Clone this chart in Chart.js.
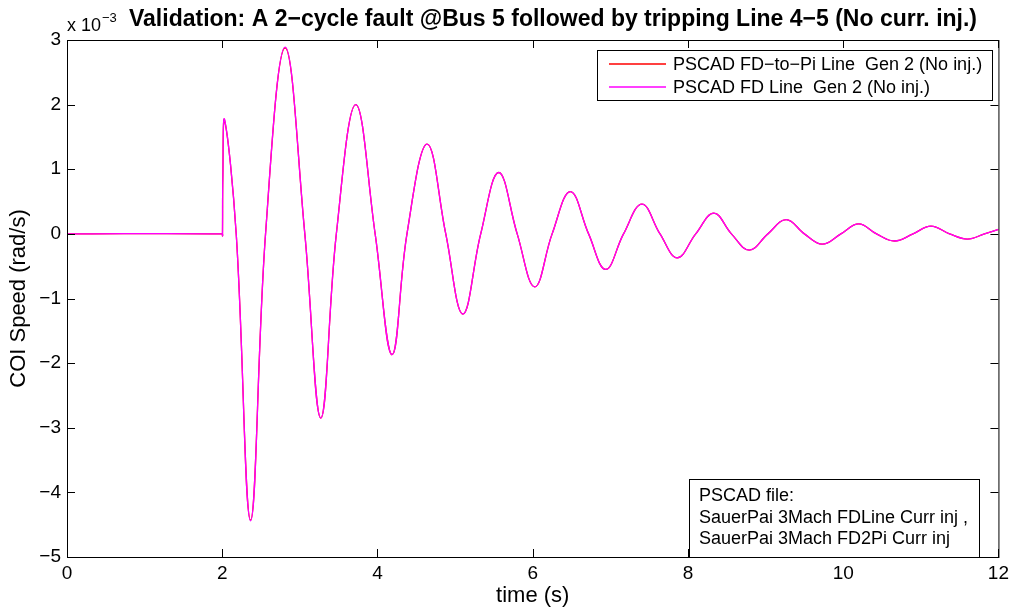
<!DOCTYPE html>
<html>
<head>
<meta charset="utf-8">
<script src="https://cdn.jsdelivr.net/npm/chart.js@4.4.1/dist/chart.umd.min.js"></script>
<style>
    html, body { margin: 0; padding: 0; background: #fff; }
    #wrap { width: 1014px; height: 611px; }
</style>
</head>
<body>
<div id="wrap"><canvas id="coiChart" width="1014" height="611"></canvas></div>
<script>
// time (s) and COI speed (x 1e-3 rad/s): extrema and zero crossings
var timeS = [0, 2.0, 2.003, 2.008, 2.03, 2.18, 2.365, 2.558, 2.81,
    3.064, 3.27, 3.47, 3.72, 3.97, 4.188, 4.38, 4.64, 4.88, 5.10, 5.33, 5.562,
    5.80, 6.026, 6.25, 6.485, 6.72, 6.94, 7.17, 7.407, 7.64, 7.862, 8.10, 8.334,
    8.56, 8.79, 9.03, 9.266, 9.50, 9.73, 9.97, 10.2, 10.43, 10.66, 10.90, 11.13,
    11.37, 11.6, 11.82, 12.0];
var speedFdPi = [0, 0, -0.03, 0.9, 1.76, 0, -4.43, 0, 2.88,
    0, -2.85, 0, 2.0, 0, -1.87, 0, 1.39, 0, -1.24, 0, 0.95,
    0, -0.82, 0, 0.655, 0, -0.55, 0, 0.46, 0, -0.37, 0, 0.32,
    0, -0.25, 0, 0.22, 0, -0.16, 0, 0.155, 0, -0.11, 0, 0.12,
    0, -0.08, 0, 0.07];
var speedFd = [0, 0, -0.03, 0.9, 1.77, 0, -4.44, 0, 2.89,
    0, -2.85, 0, 2.0, 0, -1.87, 0, 1.39, 0, -1.24, 0, 0.95,
    0, -0.82, 0, 0.655, 0, -0.55, 0, 0.46, 0, -0.37, 0, 0.32,
    0, -0.25, 0, 0.22, 0, -0.16, 0, 0.155, 0, -0.11, 0, 0.12,
    0, -0.08, 0, 0.07];
var xTicks = [0, 2, 4, 6, 8, 10, 12];
var yTicks = [-5, -4, -3, -2, -1, 0, 1, 2, 3];
var seriesNames = ['PSCAD FD\u2212to\u2212Pi Line  Gen 2 (No inj.)', 'PSCAD FD Line  Gen 2 (No inj.)'];
var seriesColors = ['#ff0000', '#ff00ff'];
var titleText = 'Validation: A 2\u2212cycle fault @Bus 5 followed by tripping Line 4\u22125 (No curr. inj.)';
var noteLines = ['PSCAD file:', 'SauerPai 3Mach FDLine Curr inj ,', 'SauerPai 3Mach FD2Pi Curr inj'];

var FONT = '"Liberation Sans", Arial, Helvetica, sans-serif';

function toPoints(ys) {
    return timeS.map(function(t, i) { return { x: t, y: ys[i] }; });
}

function minusLabel(v) {
    return v < 0 ? '\u2212' + Math.abs(v) : String(v);
}

var matlabFrame = {
    id: 'matlabFrame',
    afterDraw: function(chart) {
        var ctx = chart.ctx;
        var a = chart.chartArea;
        var xs = chart.scales.x, ys = chart.scales.y;
        var tl = 8;

        ctx.save();
        ctx.strokeStyle = '#000';
        ctx.lineWidth = 1;
        ctx.strokeRect(a.left + 0.5, a.top + 0.5, a.right - a.left, a.bottom - a.top);

        ctx.beginPath();
        xTicks.forEach(function(v) {
            var px = Math.round(xs.getPixelForValue(v)) + 0.5;
            ctx.moveTo(px, a.bottom); ctx.lineTo(px, a.bottom - tl);
            ctx.moveTo(px, a.top); ctx.lineTo(px, a.top + tl);
        });
        yTicks.forEach(function(v) {
            var py = Math.round(ys.getPixelForValue(v)) + 0.5;
            ctx.moveTo(a.left, py); ctx.lineTo(a.left + tl, py);
            ctx.moveTo(a.right, py); ctx.lineTo(a.right - tl, py);
        });
        ctx.stroke();

        // title and exponent
        ctx.fillStyle = '#000';
        ctx.textBaseline = 'middle';
        ctx.textAlign = 'center';
        ctx.font = 'bold 23px ' + FONT;
        ctx.fillText(titleText, 553, 20);
        ctx.textAlign = 'left';
        ctx.textBaseline = 'alphabetic';
        ctx.font = '18px ' + FONT;
        ctx.fillText('x 10', 67, 31);
        var w = ctx.measureText('x 10').width;
        ctx.font = '13px ' + FONT;
        ctx.fillText('\u22123', 67 + w + 1, 22);

        // legend
        ctx.textBaseline = 'middle';
        ctx.fillStyle = '#fff';
        ctx.fillRect(597, 50, 395, 50);
        ctx.strokeRect(597.5, 50.5, 395, 50);
        ctx.font = '18px ' + FONT;
        [64, 87].forEach(function(y, i) {
            ctx.strokeStyle = seriesColors[i];
            ctx.lineWidth = 1.5;
            ctx.beginPath();
            ctx.moveTo(609, y); ctx.lineTo(666, y);
            ctx.stroke();
            ctx.fillStyle = '#000';
            ctx.fillText(seriesNames[i], 673, y + 1);
        });

        // file note
        ctx.lineWidth = 1;
        ctx.fillStyle = '#fff';
        ctx.fillRect(689, 479, 290, 78);
        ctx.strokeStyle = '#000';
        ctx.strokeRect(689.5, 479.5, 290, 78);
        ctx.fillStyle = '#000';
        [496, 518, 539].forEach(function(y, i) {
            ctx.fillText(noteLines[i], 699, y);
        });
        ctx.restore();
    }
};

var config = {
    type: 'line',
    data: {
        datasets: [{
            label: seriesNames[0],
            data: toPoints(speedFdPi),
            borderColor: seriesColors[0],
            borderWidth: 1.3,
            pointRadius: 0,
            tension: 0.4,
            order: 2
        }, {
            label: seriesNames[1],
            data: toPoints(speedFd),
            borderColor: seriesColors[1],
            borderWidth: 1.3,
            pointRadius: 0,
            tension: 0.4,
            order: 1
        }]
    },
    options: {
        responsive: false,
        animation: false,
        layout: { padding: { top: 40, right: 15, left: 0, bottom: 0 } },
        plugins: {
            legend: { display: false },
            title: { display: false },
            tooltip: { enabled: false }
        },
        scales: {
            x: {
                type: 'linear',
                min: 0,
                max: 12,
                afterFit: function(s) { s.height = 54; },
                afterBuildTicks: function(s) { s.ticks = xTicks.map(function(v) { return { value: v }; }); },
                grid: { display: false, drawTicks: false },
                border: { display: false },
                ticks: {
                    color: '#000',
                    font: { family: FONT, size: 19 },
                    padding: 5,
                    maxRotation: 0
                },
                title: {
                    display: true,
                    text: 'time (s)',
                    color: '#000',
                    font: { family: FONT, size: 22 },
                    padding: { top: 0, bottom: 2 }
                }
            },
            y: {
                type: 'linear',
                min: -5,
                max: 3,
                afterFit: function(s) { s.width = 67; },
                afterBuildTicks: function(s) { s.ticks = yTicks.map(function(v) { return { value: v }; }); },
                grid: { display: false, drawTicks: false },
                border: { display: false },
                ticks: {
                    color: '#000',
                    font: { family: FONT, size: 19 },
                    padding: 6,
                    callback: function(v) { return minusLabel(v); }
                },
                title: {
                    display: true,
                    text: 'COI Speed (rad/s)',
                    color: '#000',
                    font: { family: FONT, size: 22 },
                    padding: { top: 6, bottom: 0 }
                }
            }
        }
    },
    plugins: [matlabFrame]
};

var myChart = new Chart(document.getElementById('coiChart'), config);
</script>
</body>
</html>
